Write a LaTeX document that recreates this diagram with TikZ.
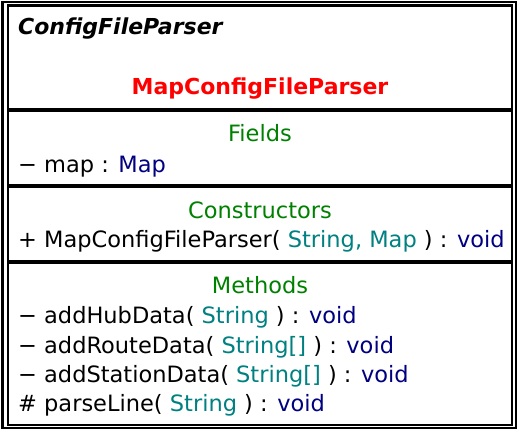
\documentclass[tikz,border=0pt]{standalone}
\usepackage{fontspec}
\setmainfont{DejaVu Sans}
\definecolor{hdrgreen}{RGB}{0,128,0}
\definecolor{typnavy}{RGB}{0,0,128}
\definecolor{parteal}{RGB}{0,128,128}
\newcommand{\ty}[1]{\textcolor{typnavy}{#1}}
\newcommand{\pa}[1]{\textcolor{parteal}{#1}}
\begin{document}
\begin{tikzpicture}[x=1pt,y=-1pt,
  txt/.style={inner sep=0pt, font=\fontsize{22.5}{26}\selectfont},
  member/.style={txt, anchor=base west},
  header/.style={txt, anchor=base, text=hdrgreen},
  frame/.style={line width=2.2pt},
  sep/.style={line width=4pt}]
\useasboundingbox (0,0) rectangle (520,432);
\draw[frame] (2.5,2) rectangle (516,428);
\draw[frame] (8,5.5) rectangle (512,425);
\draw[sep] (8,109.5) -- (512,109.5);
\draw[sep] (8,185.5) -- (512,185.5);
\draw[sep] (8,261.5) -- (512,261.5);
\node[member, font=\fontsize{22}{26}\selectfont\bfseries\itshape] (super) at (18,34) {ConfigFileParser};
\node[txt, anchor=base, font=\fontsize{22}{26}\selectfont\bfseries, text=red] (cls) at (260,94) {MapConfigFileParser};
\node[header] (fh) at (260,141) {Fields};
\node[member] (f1) at (18,172) {− map : \ty{Map}};
\node[header] (ch) at (260,218) {Constructors};
\node[member] (c1) at (18,247) {+ MapConfigFileParser( \pa{String, Map} ) : \ty{void}};
\node[header] (mh) at (260,293) {Methods};
\node[member] (m1) at (18,323) {− addHubData( \pa{String} ) : \ty{void}};
\node[member] (m2) at (18,353) {− addRouteData( \pa{String[]} ) : \ty{void}};
\node[member] (m3) at (18,382) {− addStationData( \pa{String[]} ) : \ty{void}};
\node[member] (m4) at (18,411) {\# parseLine( \pa{String} ) : \ty{void}};
\end{tikzpicture}
\end{document}
